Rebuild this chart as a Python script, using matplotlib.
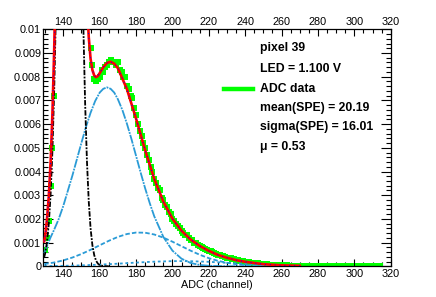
import numpy as np
import matplotlib
matplotlib.use("Agg")
import matplotlib.pyplot as plt
from matplotlib.ticker import MultipleLocator, FuncFormatter
from matplotlib.lines import Line2D

plt.rcParams['font.family'] = ['Liberation Sans', 'DejaVu Sans']

# ADC data (one value per channel, 130..320)
adc_channels = list(range(130, 321))
adc_values = [
    0.0007, 0.0012, 0.0019, 0.0034, 0.0050, 0.0072, 0.0125, 0.0170, 0.0222, 0.0280,
    0.0335, 0.0390, 0.0425, 0.0445, 0.0447, 0.0425, 0.0392, 0.0345, 0.0300, 0.0250,
    0.0203, 0.0162, 0.0131, 0.0110, 0.0101, 0.0092, 0.0085, 0.0079, 0.0078, 0.0079,
    0.0080, 0.0083, 0.0082, 0.0084, 0.0085, 0.0086, 0.0087, 0.0086, 0.0086, 0.0085,
    0.0086, 0.0083, 0.0082, 0.0080, 0.0080, 0.0076, 0.0075, 0.0072, 0.0071, 0.0067,
    0.0064, 0.0060, 0.0057, 0.0055, 0.0052, 0.0050, 0.0047, 0.0045, 0.0042, 0.0040,
    0.0037, 0.0035, 0.0033, 0.0032, 0.0029, 0.0028, 0.0026, 0.0025, 0.0023, 0.0022,
    0.0020, 0.0019, 0.0018, 0.0017, 0.0016, 0.0015, 0.0014, 0.0013, 0.0013, 0.0012,
    0.0011, 0.0011, 0.0010, 0.0010, 0.0009, 0.00087, 0.00082, 0.00079, 0.00075, 0.00070,
    0.00066, 0.00063, 0.00059, 0.00056, 0.00052, 0.00049, 0.00047, 0.00044, 0.00042, 0.00039,
    0.00036, 0.00035, 0.00033, 0.00031, 0.00029, 0.00027, 0.00025, 0.00024, 0.00022, 0.00021,
    0.00019, 0.00018, 0.00017, 0.00016, 0.00015, 0.00014, 0.00013, 0.00012, 0.00011, 0.00010,
    0.00009, 0.000085, 0.00008, 0.000075, 0.00007, 0.000065, 0.00006, 0.000055, 0.00005, 0.000045,
    0.00004, 0.000038, 0.000036, 0.000034, 0.000032, 0.00003, 0.000028, 0.000026, 0.000024, 0.000022,
    0.00002, 0.00002, 0.000018, 0.000018, 0.000016, 0.000016, 0.000014, 0.000014, 0.000012, 0.000012,
    0.00001, 0.00001, 0.00001, 0.000008, 0.00001, 0.000008, 0.00001, 0.000006, 0.000008, 0.000006,
    0.000006, 0.000006, 0.000004, 0.000004, 0.0, 0.000004, 0.0, 0.0, 0.000004, 0.0,
    0.0, 0.0, 0.000004, 0.0, 0.0, 0.000004, 0.0, 0.0, 0.000004, 0.0,
    0.0, 0.000004, 0.0, 0.0, 0.000004, 0.0, 0.0, 0.0, 0.0, 0.0,
    0.0,
]

# total fit
total_x = [129.5, 130, 131, 132, 133, 134, 135, 136, 137, 138, 140, 143.4, 146, 148,
           150, 151, 152, 153, 154, 155, 156, 157, 158, 159, 160, 162, 164, 166, 168,
           170, 175, 180, 185, 190, 195, 200, 205, 210, 215, 220, 225, 230, 235, 240,
           250, 260, 270]
total_y = [0.00105, 0.00125, 0.00197, 0.00294, 0.00437, 0.00639, 0.00918, 0.0128, 0.0173,
           0.0226, 0.0338, 0.0448, 0.0394, 0.0298, 0.0201, 0.0162, 0.0132, 0.0111, 0.00966,
           0.00875, 0.00828, 0.00805, 0.00798, 0.00803, 0.00815, 0.0084, 0.00858, 0.00863,
           0.00855, 0.00836, 0.00747, 0.00623, 0.0049, 0.00369, 0.00273, 0.00201, 0.0015,
           0.00113, 0.00086, 0.00065, 0.00048, 0.00036, 0.00026, 0.00019, 0.00009, 0.00004,
           0.00002]

# pedestal
ped_x = [129.5, 130, 131, 132, 133, 134, 135, 136, 137, 138, 140, 143.4, 146, 148, 150,
         151, 152, 153, 154, 155, 156, 157, 158, 159, 160, 162, 165]
ped_y = [0.000386, 0.000535, 0.000999, 0.00178, 0.003, 0.00485, 0.00746, 0.0109, 0.01525,
         0.0203, 0.031, 0.041, 0.0348, 0.0246, 0.0143, 0.0102, 0.00687, 0.00443, 0.00272,
         0.00159, 0.000886, 0.00047, 0.000238, 0.000115, 0.000053, 0.00001, 0.0]

# 1 p.e.
pe1_x = [129.5, 131, 133, 135, 137.5, 140, 145, 150, 152.5, 155, 157.5, 160, 162, 164,
         166, 168, 170, 172.5, 175, 177.5, 180, 182.5, 185, 187.5, 190, 195, 200, 205,
         210, 215, 220, 230, 240, 270]
pe1_y = [0.00055, 0.00085, 0.00122, 0.00155, 0.002, 0.00255, 0.00383, 0.00522, 0.00589,
         0.00648, 0.00697, 0.00733, 0.00749, 0.00755, 0.00749, 0.00733, 0.00705, 0.00659,
         0.00601, 0.00536, 0.00466, 0.00396, 0.00329, 0.00267, 0.00211, 0.00124, 0.00066,
         0.00032, 0.00014, 0.000056, 0.00002, 0.000002, 0.0, 0.0]

# 2 p.e.
pe2_x = [129.5, 135, 140, 145, 150, 155, 160, 165, 170, 175, 180, 185, 190, 195, 200,
         205, 210, 215, 220, 225, 230, 235, 240, 250, 260, 270]
pe2_y = [0.000094, 0.000161, 0.00025, 0.00037, 0.00052, 0.000696, 0.000887, 0.001075,
         0.00124, 0.001362, 0.001424, 0.001417, 0.001342, 0.00121, 0.001038, 0.000848,
         0.000659, 0.000487, 0.000343, 0.00023, 0.000147, 0.000089, 0.000051, 0.000015,
         0.000003, 0.0]

# 3 p.e.
pe3_x = [129.5, 140, 150, 160, 170, 180, 190, 200, 205, 210, 220, 230, 240, 250, 260, 270]
pe3_y = [0.000008, 0.000019, 0.000039, 0.00007, 0.00011, 0.000156, 0.000196, 0.000218,
         0.00022, 0.000215, 0.000189, 0.000147, 0.000102, 0.000063, 0.000034, 0.000017]

legend_lines = ["pixel 39", "LED = 1.100 V", "ADC data", "mean(SPE) = 20.19",
                "sigma(SPE) = 16.01", "\u03bc = 0.53"]

W, H = 436, 297
fig = plt.figure(figsize=(W / 100, H / 100), dpi=100)
ax = fig.add_axes([43.3 / W, 1 - 266.3 / H, (390.7 - 43.3) / W, (266.3 - 29.3) / H])

green = '#00ff00'
azure = '#2a9bd6'

ch = np.array(adc_channels)
vals = np.array(adc_values)
mask = vals > 0
ax.plot(ch[mask], vals[mask], 's', ms=3.8, color=green, mec=green, mew=0, zorder=2)

ax.plot(pe3_x, pe3_y, color=azure, lw=1.3, ls=(0, (1.5, 1.5)), zorder=3)
ax.plot(pe2_x, pe2_y, color=azure, lw=1.3, ls=(0, (2.5, 1.2)), zorder=3)
ax.plot(pe1_x, pe1_y, color=azure, lw=1.3, ls=(0, (5, 0.6, 1, 0.6)), zorder=3)
ax.plot(ped_x, ped_y, color='black', lw=1.3, ls=(0, (3, 0.8, 1, 0.8)), zorder=3)
ax.plot(total_x, total_y, color='#ff0000', lw=1.9, zorder=4)
ax.plot(total_x, total_y, color='#0000ff', lw=0.7, ls=(0, (1, 4)), zorder=5)

ax.set_xlim(129, 320)
ax.set_ylim(0, 0.01)

ax.xaxis.set_major_locator(MultipleLocator(20))
ax.xaxis.set_minor_locator(MultipleLocator(5))
ax.yaxis.set_major_locator(MultipleLocator(0.001))
ax.yaxis.set_minor_locator(MultipleLocator(0.0002))
ax.yaxis.set_major_formatter(FuncFormatter(lambda v, p: f"{round(v, 4):g}"))

ax.tick_params(axis='both', which='both', direction='in', top=True, right=True,
               labeltop=True, labelright=False, labelsize=7.8, width=0.8)
ax.tick_params(axis='y', which='major', length=7.5, pad=1.5)
ax.tick_params(axis='y', which='minor', length=3.8)
ax.tick_params(axis='x', which='major', length=5.2, pad=2)
ax.tick_params(axis='x', which='minor', length=2.6)
for s in ax.spines.values():
    s.set_linewidth(0.9)

fig.text(217 / W, 1 - 284.7 / H, "ADC (channel)", ha='center', va='center', fontsize=7.8)

ys = [47.7, 68.5, 88.5, 107.5, 126.7, 147]
for t, yy in zip(legend_lines, ys):
    fig.text(259.5 / W, 1 - yy / H, t, ha='left', va='center', fontsize=8.8,
             fontweight='bold')
fig.add_artist(Line2D([224 / W, 253 / W], [1 - 88.5 / H, 1 - 88.5 / H],
                      color=green, lw=3.2, transform=fig.transFigure))

fig.savefig("out.png", dpi=100)
